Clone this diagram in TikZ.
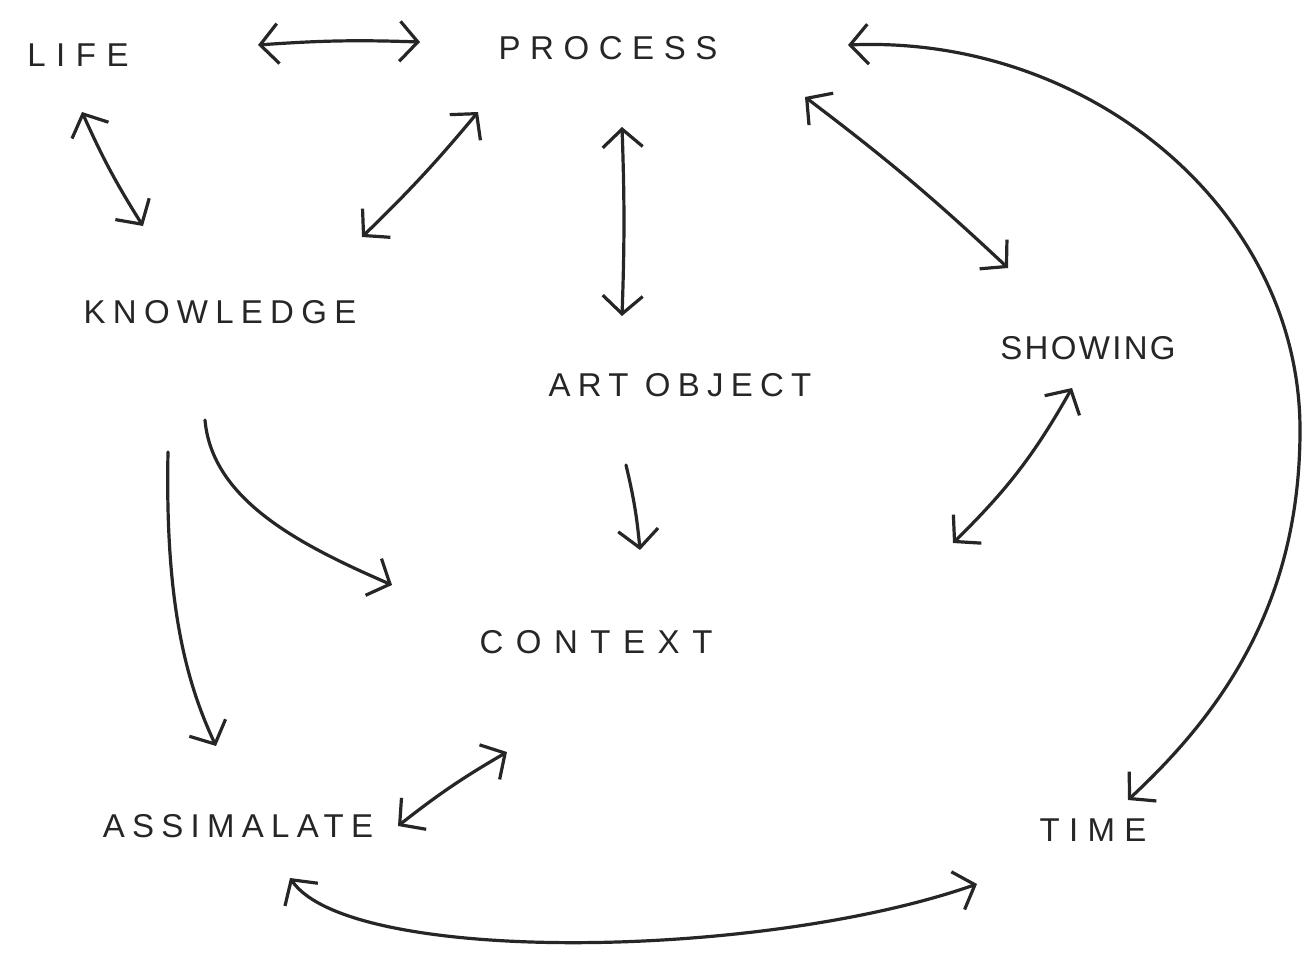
\documentclass[tikz,border=0pt]{standalone}
\usepackage{fontspec}
\setmainfont{Liberation Sans}
\usetikzlibrary{arrows.meta}
\begin{document}
\begin{tikzpicture}[x=1pt,y=-1pt,
  lbl/.style={inner sep=0pt, text=black!85, font=\fontsize{33}{36}\selectfont\addfontfeature{LetterSpace=#1}},
  lbl/.default=22,
  conn/.style={line width=3.2pt, line cap=round, line join=round, draw=black!85},
  both/.style={conn,{Straight Barb[length=18pt,width=40pt]}-{Straight Barb[length=18pt,width=40pt]}},
  one/.style={conn,-{Straight Barb[length=18pt,width=40pt]}}]
\useasboundingbox[fill=white] (0,0) rectangle (1304,979);
% labels
\node[lbl=32] (life) at (78,55) {LIFE};
\node[lbl=29] (process) at (608,48) {PROCESS};
\node[lbl] (knowledge) at (220,312) {KNOWLEDGE};
\node[lbl] (artobject) at (680,385) {ART OBJECT};
\node[lbl=7] (showing) at (1088,348) {SHOWING};
\node[lbl=38] (context) at (596,642) {CONTEXT};
\node[lbl] (assimalate) at (238,826) {ASSIMALATE};
\node[lbl=28] (time) at (1093,830) {TIME};
% connector ends
\coordinate (lp1) at (258,45);  \coordinate (lp2) at (420,42);
\coordinate (lk1) at (82,112);  \coordinate (lk2) at (143,226);
\coordinate (kp1) at (362,237); \coordinate (kp2) at (478,112);
\coordinate (pa1) at (622,127); \coordinate (pa2) at (622,316);
\coordinate (ps1) at (805,97);  \coordinate (ps2) at (1008,268);
\coordinate (pt1) at (848,45);  \coordinate (pt2) at (1128,800);
\coordinate (ac1) at (626,465); \coordinate (ac2) at (640,550);
\coordinate (sw1) at (1072,388); \coordinate (sw2) at (953,543);
\coordinate (kc1) at (205,420); \coordinate (kc2) at (392,585);
\coordinate (ka1) at (168,452); \coordinate (ka2) at (216,746);
\coordinate (as1) at (398,826); \coordinate (as2) at (507,752);
\coordinate (at1) at (290,878); \coordinate (at2) at (977,884);
% connectors
\draw[both] (lp1) to[bend left=3] (lp2);
\draw[both] (lk1) to[bend right=4] (lk2);
\draw[both] (kp1) to[bend right=3] (kp2);
\draw[both] (pa1) to[bend left=2] (pa2);
\draw[both] (ps1) to[bend left=3] (ps2);
\draw[both] (pt1) .. controls (1090,35) and (1300,210) .. (1300,430)
                  .. controls (1300,600) and (1225,710) .. (pt2);
\draw[one]  (ac1) to[bend left=4] (ac2);
\draw[both] (sw1) to[bend left=8] (sw2);
\draw[one]  (kc1) .. controls (212,500) and (300,545) .. (kc2);
\draw[one]  (ka1) .. controls (165,600) and (185,680) .. (ka2);
\draw[both] (as1) to[bend left=4] (as2);
\draw[both] (at1) .. controls (350,965) and (760,960) .. (at2);
\end{tikzpicture}
\end{document}
